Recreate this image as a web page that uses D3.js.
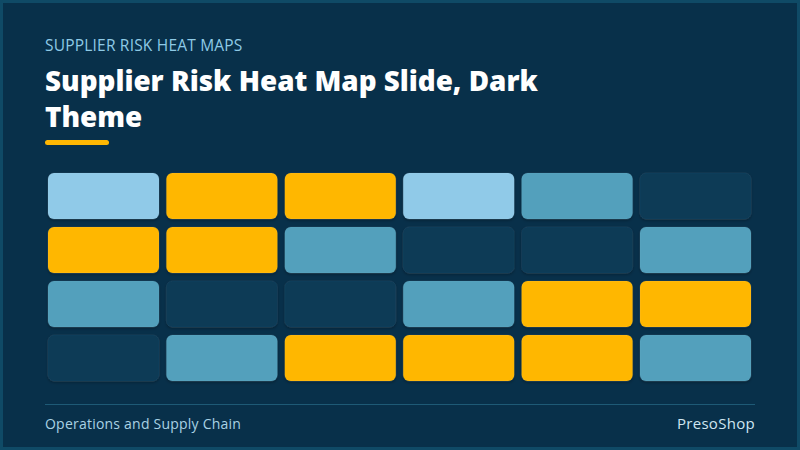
<!DOCTYPE html>
<html>
<head>
<meta charset="utf-8">
<script src="https://cdn.jsdelivr.net/npm/d3@7/dist/d3.min.js"></script>
<style>
  html, body { margin: 0; padding: 0; background: #08304a; }
  svg { display: block; }
</style>
</head>
<body>
<svg id="chart" width="800" height="450"></svg>
<script>
// ---- data ----
const columns = ["S1", "S2", "S3", "S4", "S5", "S6"];
const rows = ["R1", "R2", "R3", "R4"];
// risk level per cell: 0 = low, 1 = moderate, 2 = elevated, 3 = high
const riskRow1 = [2, 3, 3, 2, 1, 0];
const riskRow2 = [3, 3, 1, 0, 0, 1];
const riskRow3 = [1, 0, 0, 1, 3, 3];
const riskRow4 = [0, 1, 3, 3, 3, 1];
const riskLevels = [0, 1, 2, 3];
const eyebrow = "SUPPLIER RISK HEAT MAPS";
const titleLines = ["Supplier Risk Heat Map Slide, Dark", "Theme"];
const footerLeft = "Operations and Supply Chain";
const footerRight = "PresoShop";

const riskGrid = [riskRow1, riskRow2, riskRow3, riskRow4];
const cells = [];
riskGrid.forEach((vals, ri) => vals.forEach((v, ci) => cells.push({ row: rows[ri], col: columns[ci], value: v })));

// ---- drawing ----
const W = 800, H = 450;
const svg = d3.select("#chart");
const FONT = "'Open Sans', 'Noto Sans', sans-serif";

svg.append("rect").attr("width", W).attr("height", H).attr("fill", "#0f4a66");
svg.append("rect").attr("x", 3).attr("y", 3).attr("width", W - 6).attr("height", H - 6).attr("fill", "#08304a");

svg.append("text").attr("x", 45).attr("y", 51)
  .attr("font-family", FONT).attr("font-size", 15.5).attr("letter-spacing", 0.2).attr("fill", "#8ecae6")
  .text(eyebrow);

const title = svg.append("text").attr("font-family", FONT).attr("font-weight", 800)
  .attr("font-size", 27.8).attr("fill", "#ffffff");
titleLines.forEach((t, i) => title.append("tspan").attr("x", 45).attr("y", 91 + i * 36).text(t));

svg.append("rect").attr("x", 45).attr("y", 140).attr("width", 64).attr("height", 5)
  .attr("rx", 2.5).attr("fill", "#ffb703");

const x = d3.scaleBand().domain(columns).range([48, 751]).paddingInner(0.0625);
const y = d3.scaleBand().domain(rows).range([173, 381]).paddingInner(0.148);
const color = d3.scaleOrdinal().domain(riskLevels).range(["#0c3a57", "#52a0bc", "#90cae8", "#ffb703"]);

const defs = svg.append("defs");
const f = defs.append("filter").attr("id", "sh").attr("x", "-10%").attr("y", "-20%").attr("width", "120%").attr("height", "150%");
f.append("feDropShadow").attr("dx", 0).attr("dy", 1.5).attr("stdDeviation", 1.5).attr("flood-color", "#000").attr("flood-opacity", 0.3);

svg.append("g").selectAll("rect").data(cells).join("rect")
  .attr("x", d => x(d.col)).attr("y", d => y(d.row))
  .attr("width", x.bandwidth()).attr("height", y.bandwidth())
  .attr("rx", 6)
  .attr("fill", d => color(d.value))
  .attr("stroke", "rgba(255,255,255,0.05)").attr("stroke-width", 1)
  .attr("filter", "url(#sh)");

svg.append("line").attr("x1", 45).attr("x2", 755).attr("y1", 404.5).attr("y2", 404.5)
  .attr("stroke", "#1e5a76").attr("stroke-width", 1.2);

svg.append("text").attr("x", 45).attr("y", 429)
  .attr("font-family", FONT).attr("font-size", 14).attr("letter-spacing", 0.22).attr("fill", "#a9d2e4")
  .text(footerLeft);
svg.append("text").attr("x", 755).attr("y", 429).attr("text-anchor", "end")
  .attr("font-family", FONT).attr("font-size", 15).attr("letter-spacing", 0.3).attr("fill", "#cfe6f1")
  .text(footerRight);
</script>
</body>
</html>
